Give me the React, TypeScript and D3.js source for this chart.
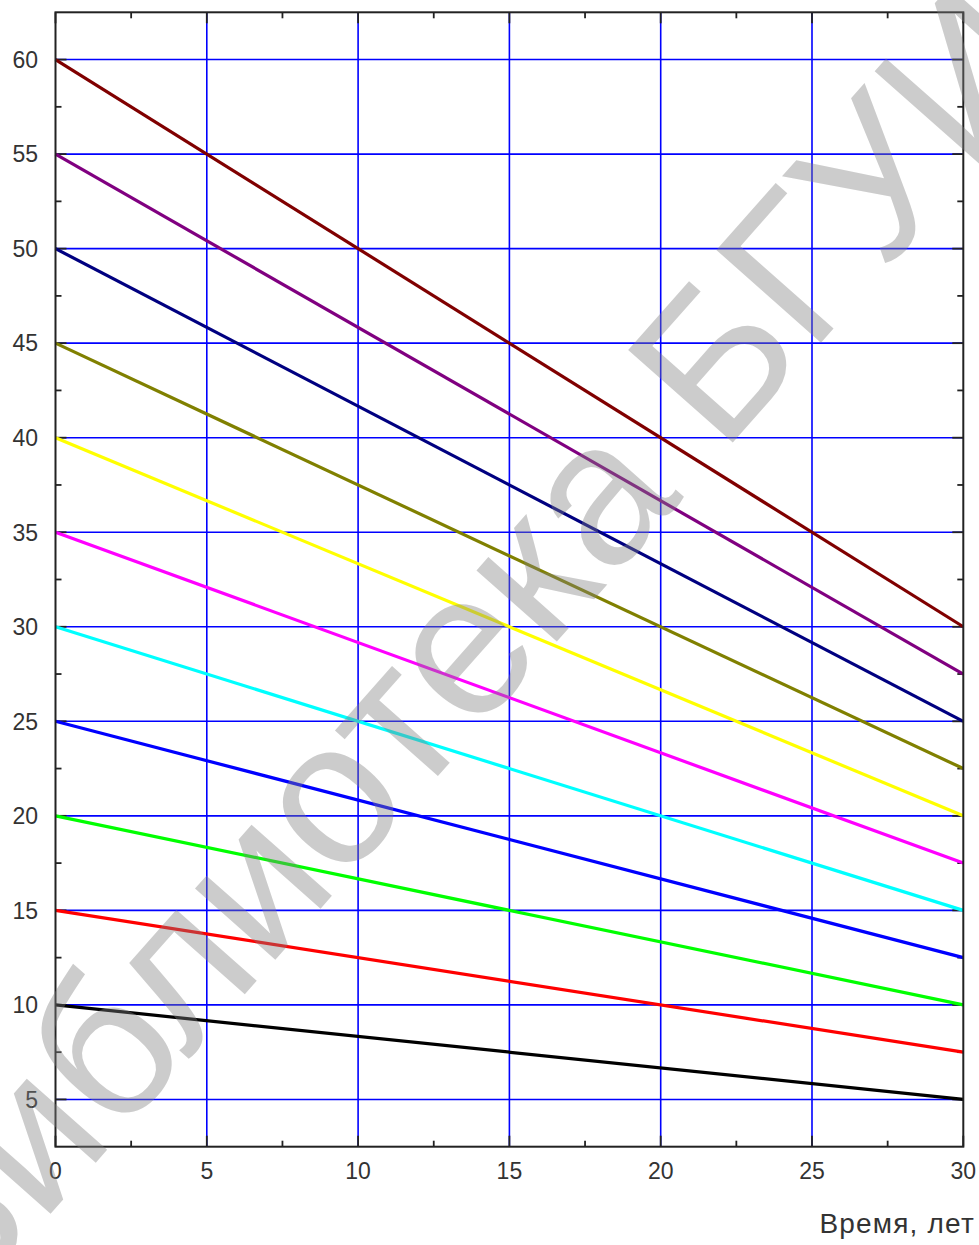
import * as React from "react";
import * as d3 from "d3";

// time points (years) and values of each series at those points
const years = [0, 30];
const startValues = [60, 55, 50, 45, 40, 35, 30, 25, 20, 15, 10];
const endValues = [30, 27.5, 25, 22.5, 20, 17.5, 15, 12.5, 10, 7.5, 5];
const seriesColors = [
  "#800000", "#800080", "#000080", "#808000", "#ffff00", "#ff00ff",
  "#00ffff", "#0000ff", "#00ff00", "#ff0000", "#000000",
];

const xTicks = [0, 5, 10, 15, 20, 25, 30];
const xMinorTicks = [2.5, 7.5, 12.5, 17.5, 22.5, 27.5];
const yTicks = [5, 10, 15, 20, 25, 30, 35, 40, 45, 50, 55, 60];
const yMinorTicks = [7.5, 12.5, 17.5, 22.5, 27.5, 32.5, 37.5, 42.5, 47.5, 52.5, 57.5];

const xLabel = "Время, лет";
const watermark = "Библиотека БГУИР";

const W = 979;
const H = 1245;
const plot = { left: 55.5, right: 963.3, top: 12.3, bottom: 1146.7 };
const font = "'Liberation Sans', Arial, sans-serif";

export default function App() {
  const x = d3.scaleLinear().domain([0, 30]).range([plot.left, plot.right]);
  const y = d3.scaleLinear().domain([2.5, 62.5]).range([plot.bottom, plot.top]);

  const line = d3.line<[number, number]>()
    .x(d => x(d[0]))
    .y(d => y(d[1]));

  const series = startValues.map((s, i) => [
    [years[0], s],
    [years[1], endValues[i]],
  ] as [number, number][]);

  const major = 11;
  const minor = 6;

  return (
    <svg width={W} height={H} style={{ position: "absolute", left: 0, top: 0, background: "#fff" }}>
      {/* grid */}
      <g stroke="#0000ff" strokeWidth={1.6}>
        {xTicks.slice(1, -1).map(t => (
          <line key={"gx" + t} x1={x(t)} x2={x(t)} y1={plot.top} y2={plot.bottom} />
        ))}
        {yTicks.map(t => (
          <line key={"gy" + t} x1={plot.left} x2={plot.right} y1={y(t)} y2={y(t)} />
        ))}
      </g>

      {/* ticks on all four sides, pointing inward */}
      <g stroke="#222" strokeWidth={1.8}>
        {xTicks.map(t => (
          <React.Fragment key={"tx" + t}>
            <line x1={x(t)} x2={x(t)} y1={plot.bottom} y2={plot.bottom - major} />
            <line x1={x(t)} x2={x(t)} y1={plot.top} y2={plot.top + major} />
          </React.Fragment>
        ))}
        {xMinorTicks.map(t => (
          <React.Fragment key={"mx" + t}>
            <line x1={x(t)} x2={x(t)} y1={plot.bottom} y2={plot.bottom - minor} />
            <line x1={x(t)} x2={x(t)} y1={plot.top} y2={plot.top + minor} />
          </React.Fragment>
        ))}
        {yTicks.map(t => (
          <React.Fragment key={"ty" + t}>
            <line x1={plot.left} x2={plot.left + major} y1={y(t)} y2={y(t)} />
            <line x1={plot.right} x2={plot.right - major} y1={y(t)} y2={y(t)} />
          </React.Fragment>
        ))}
        {yMinorTicks.map(t => (
          <React.Fragment key={"my" + t}>
            <line x1={plot.left} x2={plot.left + minor} y1={y(t)} y2={y(t)} />
            <line x1={plot.right} x2={plot.right - minor} y1={y(t)} y2={y(t)} />
          </React.Fragment>
        ))}
      </g>

      {/* data lines */}
      <g fill="none" strokeWidth={3.2}>
        {series.map((d, i) => (
          <path key={"s" + i} d={line(d) || ""} stroke={seriesColors[i]} />
        ))}
      </g>

      {/* frame */}
      <rect x={plot.left} y={plot.top} width={plot.right - plot.left} height={plot.bottom - plot.top}
        fill="none" stroke="#222" strokeWidth={2} />

      {/* tick labels */}
      <g fontFamily={font} fontSize={23} fill="#333">
        {xTicks.map(t => (
          <text key={"lx" + t} x={x(t)} y={1179} textAnchor="middle">{t}</text>
        ))}
        {yTicks.map(t => (
          <text key={"ly" + t} x={38} y={y(t)} dy="0.36em" textAnchor="end">{t}</text>
        ))}
        <text x={975} y={1233} textAnchor="end" fontSize={28} letterSpacing={1.2}>{xLabel}</text>
      </g>

      {/* watermark */}
      <text x={-47} y={1324} transform="rotate(-48.5 -47 1324)" fontFamily={font} fontSize={203}
        fill="#808080" fillOpacity={0.4}>{watermark}</text>
    </svg>
  );
}
